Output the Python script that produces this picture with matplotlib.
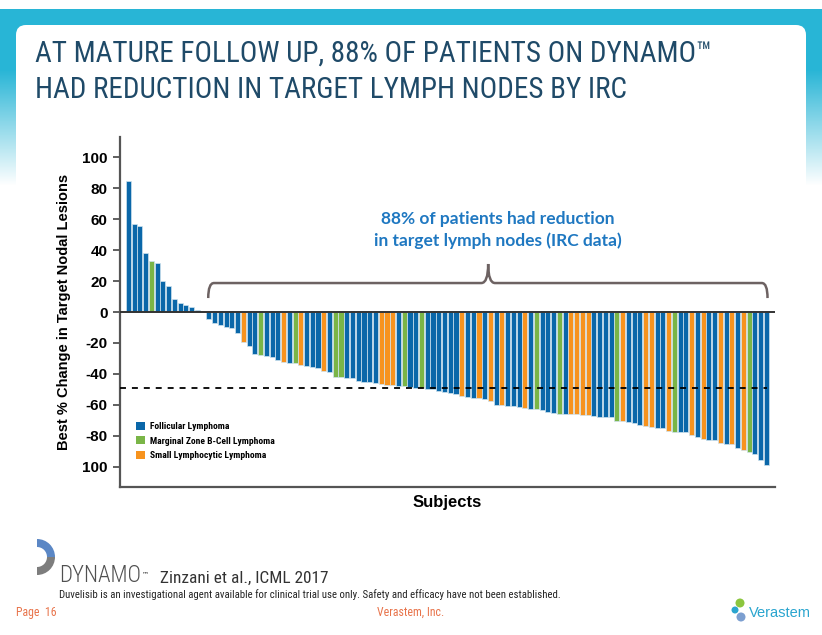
import os
import numpy as np
import matplotlib
matplotlib.use("Agg")
from matplotlib import pyplot as plt
from matplotlib import font_manager as fm
from matplotlib.font_manager import FontProperties
from matplotlib.patches import FancyBboxPatch, Patch, Wedge, Circle, PathPatch
from matplotlib.path import Path

# best % change per subject, sorted (waterfall)
change = [84.5, 56.8, 55.5, 38.3, 33.1, 31.8, 20, 17, 8.4, 5.6, 4.3, 3, 1, 0,
          -4.7, -7.3, -8.4, -9.9, -10.2, -13.3, -19.6, -21.9, -27.1, -27.7,
          -28.4, -29.2, -31, -32, -32.7, -33.1, -34.2, -34.8, -35.7, -36.3,
          -37.8, -38.5, -41.7, -41.9, -42.6, -42.8, -44.5, -45, -45.4, -45.6,
          -46.5, -47.1, -47.3, -47.5, -48, -48.4, -48.8, -49.2, -49.7, -49.9,
          -51.2, -51.6, -52.5, -52.9, -54.2, -54.6, -55.3, -55.5, -56.3, -57.4,
          -60, -60.2, -60.4, -60.6, -61.1, -62.2, -62.6, -62.8, -63.4, -64.3,
          -65, -65.6, -65.8, -66, -66.1, -66.2, -66.7, -67.3, -67.5, -67.7,
          -68, -70.1, -70.5, -71.2, -71.8, -72.9, -73.5, -74, -74.6, -74.8,
          -76.8, -77.2, -77.3, -77.8, -79.4, -80.4, -81.8, -82.6, -82.8, -84.7,
          -85.2, -85.4, -87.5, -89.2, -90.7, -91.4, -95.5, -98.7]
# F = follicular, M = marginal zone, S = small lymphocytic
subtype = list("FFFFMFFFFFFFFF"
               "FFFFFFSFFMFFFSFMSFFFSFMMFFFFFFSSSFMFFMFFFFFFSFFSFSFS"
               "FFFSFMFFFMFSSSSFFFFMSFFFSSFFSMFFSFSFFSFSFSMFFF")

subtype_names = {"F": "Follicular Lymphoma",
                 "M": "Marginal Zone B-Cell Lymphoma",
                 "S": "Small Lymphocytic Lymphoma"}
colors = {"F": "#0a67a9", "M": "#7ab547", "S": "#f7931e"}

ytick_vals = [100, 80, 60, 40, 20, 0, -20, -40, -60, -80, -100]
ytick_labels = ["100", "80", "60", "40", "20", "0", "-20", "-40", "-60", "-80", "100"]


# look for a condensed face on the system, else plain Liberation Sans
def find_font(keys):
    files = [f.fname for f in fm.fontManager.ttflist]
    for key in keys:
        for fn in files:
            if key.lower() in os.path.basename(fn).lower():
                return fn
    return None


cond_reg = find_font(["RobotoCondensed-Regular", "Roboto-Condensed.", "NotoSans-SemiCondensed.",
                      "NotoSans-Condensed.", "OpenSans-CondLight", "LiberationSansNarrow-Regular",
                      "DejaVuSansCondensed."])
cond_light = find_font(["RobotoCondensed-Light.", "Roboto-CondensedLight."]) or cond_reg
cond_bold = find_font(["RobotoCondensed-Bold.", "Roboto-CondensedBold", "NotoSans-CondensedBold.",
                       "OpenSans-CondBold", "LiberationSansNarrow-Bold.", "DejaVuSansCondensed-Bold"])


def fp(path, size, weight="normal"):
    if path:
        return FontProperties(fname=path, size=size)
    return FontProperties(family="Liberation Sans", size=size, weight=weight)


W, H = 822, 635
fig = plt.figure(figsize=(W / 100, H / 100), dpi=100)


def fit_width(t, width_px):
    r = fig.canvas.get_renderer()
    w = t.get_window_extent(r).width
    t.set_fontsize(t.get_fontsize() * width_px / w)


# slide background in pixel coords
bg = fig.add_axes([0, 0, 1, 1])
bg.set_xlim(0, W)
bg.set_ylim(H, 0)
bg.axis("off")
yy = np.arange(H)
alpha = np.clip((185 - yy) / 115.0, 0, 1)
alpha[yy < 9] = 0
grad = np.zeros((H, 1, 4))
grad[..., 0] = 0.16
grad[..., 1] = 0.71
grad[..., 2] = 0.84
grad[:, 0, 3] = alpha
bg.imshow(grad, extent=[0, W, H, 0], aspect="auto", zorder=0)
bg.add_patch(FancyBboxPatch((24, 33), 774, 700, boxstyle="round,pad=8,rounding_size=10",
                            fc="white", ec="none", zorder=1))

t1 = bg.text(35, 62, "AT MATURE FOLLOW UP, 88% OF PATIENTS ON DYNAMO\u2122",
             fontproperties=fp(cond_reg, 20), color="#1f4a68", va="baseline", zorder=2)
fit_width(t1, 677)
bg.text(35, 98, "HAD REDUCTION IN TARGET LYMPH NODES BY IRC",
        fontproperties=fp(cond_reg, t1.get_fontsize()), color="#1f4a68",
        va="baseline", zorder=2)

# footer (y axis is flipped here, so negative angles are the upper half)
bg.add_patch(Wedge((37, 557), 18, -90, 0, width=8, fc="#5b87c5", ec="none", zorder=2))
bg.add_patch(Wedge((37, 557), 18, 0, 90, width=8, fc="#7d7d7d", ec="none", zorder=2))
t = bg.text(59, 582, "DYNAMO", fontproperties=fp(cond_light, 11), color="#505050",
            va="baseline", zorder=2)
fit_width(t, 82)
bg.text(142, 576, "\u2122", fontsize=5, color="#222222", va="baseline", zorder=2)
t = bg.text(160, 583, "Zinzani et al., ICML 2017", fontproperties=fp(cond_reg, 10.5),
            color="#333333", va="baseline", zorder=2)
fit_width(t, 168)
t = bg.text(59, 598, "Duvelisib is an investigational agent available for clinical trial use only. "
            "Safety and efficacy have not been established.", fontproperties=fp(cond_reg, 6.5),
            color="#222222", va="baseline", zorder=2)
fit_width(t, 497)
bg.text(16, 616, "Page  16", fontproperties=fp(cond_reg, 8.5), color="#e8734a",
        va="baseline", zorder=2)
bg.text(411, 616, "Verastem, Inc.", fontproperties=fp(cond_reg, 8.5), color="#e8734a",
        va="baseline", ha="center", zorder=2)
bg.add_patch(Circle((740, 603), 4.5, fc="#8cc63f", ec="none", zorder=2))
bg.add_patch(Circle((735, 610), 3.5, fc="#2aa5cf", ec="none", zorder=2))
bg.add_patch(Circle((741, 617), 4.5, fc="#5b87c5", ec="none", alpha=0.8, zorder=2))
bg.text(749, 617, "Verastem", fontproperties=fp(None, 10.5), color="#2aa5cf",
        va="baseline", zorder=2)

# main chart
ax = fig.add_axes([120 / W, 1 - 487 / H, 655 / W, 350 / H])
ax.set_facecolor("none")
x = np.arange(len(change))
ax.bar(x, change, width=0.88, color=[colors[s] for s in subtype],
       edgecolor="#cfe3ef", linewidth=0.5, zorder=2)
ax.axhline(0, color="#333333", lw=1.4, zorder=3)
ax.axhline(-49, xmax=0.988, color="black", lw=1.3, ls=(0, (3.3, 3.3)), zorder=4)
ax.set_xlim(-1.45, 112.5)
ax.set_ylim(-113, 113)
ax.set_yticks(ytick_vals)
ax.set_yticklabels(ytick_labels, fontsize=11, fontweight="bold", family="Liberation Sans")
ax.set_xticks([])
ax.tick_params(axis="y", direction="out", length=5, width=1.2, color="#444444", pad=4)
for s in ["top", "right"]:
    ax.spines[s].set_visible(False)
for s in ["left", "bottom"]:
    ax.spines[s].set_color("#555555")
    ax.spines[s].set_linewidth(1.6)
ax.set_ylabel("Best % Change in Target Nodal Lesions", fontsize=10.5, fontweight="bold",
              family="Liberation Sans", labelpad=8)
ax.set_xlabel("Subjects", fontsize=12, fontweight="bold", family="Liberation Sans",
              labelpad=6)

# brace over responders
verts = [(13.9, 9), (13.9, 18.7), (14.9, 18.7), (61.4, 18.7), (62.6, 18.7), (62.6, 31),
         (62.6, 18.7), (63.8, 18.7), (110.2, 18.7), (111.2, 18.7), (111.2, 9)]
codes = [Path.MOVETO, Path.CURVE3, Path.CURVE3, Path.LINETO, Path.CURVE3, Path.CURVE3,
         Path.CURVE3, Path.CURVE3, Path.LINETO, Path.CURVE3, Path.CURVE3]
ax.add_patch(PathPatch(Path(verts, codes), fc="none", ec="#6d6262", lw=1.8, zorder=5))
ax.text(64.3, 53, "88% of patients had reduction\nin target lymph nodes (IRC data)",
        ha="center", va="center", fontsize=12.5, color="#1f78c1", fontweight="bold",
        family="Lato", linespacing=1.45)

handles = [Patch(fc=colors[k], ec="none") for k in ["F", "M", "S"]]
leg = ax.legend(handles, [subtype_names[k] for k in ["F", "M", "S"]], loc="upper left",
                bbox_to_anchor=(0.012, 0.21), frameon=False, handlelength=0.9,
                handleheight=0.9, handletextpad=0.5, labelspacing=0.55,
                prop=fp(cond_bold, 6.8 if cond_bold else 5.8, "bold"))

fig.savefig("out.png", dpi=100)
